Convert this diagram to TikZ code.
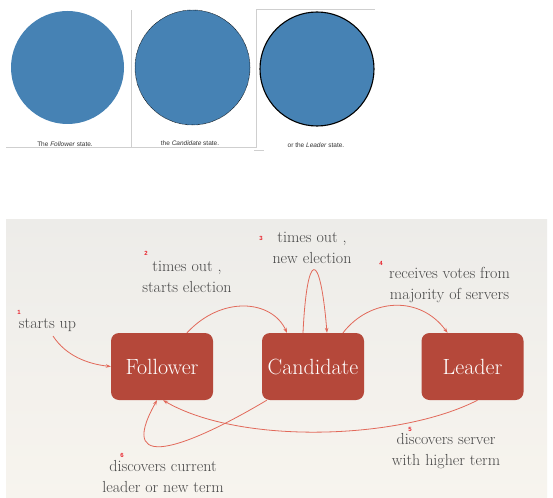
\documentclass[tikz,border=0pt]{standalone}
\usepackage{fontspec}
\newfontfamily\capfont{Liberation Sans}
\usetikzlibrary{arrows.meta}
\definecolor{stblue}{HTML}{4682B4}
\definecolor{boxred}{HTML}{B5483A}
\definecolor{arrred}{HTML}{E2695A}
\definecolor{numred}{HTML}{E8202A}
\definecolor{labgrey}{HTML}{474747}
\definecolor{panelline}{HTML}{CFCFCF}
\definecolor{bgtop}{HTML}{EDECE9}
\definecolor{bgmid}{HTML}{E6E4E0}
\definecolor{bgbot}{HTML}{F7F4EE}
\tikzset{
  statebox/.style={fill=boxred, rounded corners=8pt, minimum width=102pt, minimum height=67pt, inner sep=0pt,
    text=white, font=\fontsize{22}{24}\selectfont},
  lab/.style={text=labgrey, align=center, inner sep=0pt, font=\fontsize{16}{21}\selectfont},
  num/.style={text=numred, inner sep=0pt, font=\capfont\bfseries\fontsize{6}{6}\selectfont},
  captext/.style={text=black!80, inner sep=0pt, font=\capfont\fontsize{6.5}{7}\selectfont},
  conn/.style={draw=arrred, line width=0.8pt, -{Stealth[length=5pt,width=3.6pt]}},
  pline/.style={draw=panelline, line width=0.8pt}
}
\begin{document}
\begin{tikzpicture}[x=1pt,y=-1pt]
\useasboundingbox (0,0) rectangle (553,497);
\fill[white] (0,0) rectangle (553,497);
% top panels
\draw[pline] (6,147) -- (131,147) -- (131,10);
\draw[pline] (131,147) -- (256,147) -- (256,9.5) -- (375,9.5);
\draw[pline] (254,150) -- (264,150);
\fill[stblue] (67.5,67.5) circle (56.5);
\draw[fill=stblue, draw=black, line width=0.5pt, dash pattern=on 0.6pt off 0.6pt] (192.5,67.5) circle (57.5);
\draw[fill=stblue, draw=black, line width=1.1pt] (317,69) circle (57);
\node[captext] (c1) at (65,143.7) {The \textit{Follower} state.};
\node[captext] (c2) at (190,143.5) {the \textit{Candidate} state.};
\node[captext] (c3) at (316,145) {or the \textit{Leader} state.};
% bottom panel
\shade[top color=bgtop, middle color=bgmid, bottom color=bgbot] (6,219) rectangle (547,497);
% states
\node[statebox] (fol) at (162,366.5) {Follower};
\node[statebox] (can) at (313,366.5) {Candidate};
\node[statebox] (lea) at (472.5,366.5) {Leader};
% labels
\node[lab] (l1) at (47.5,325) {starts up};
\node[lab] (l2) at (187,277) {times out ,\\starts election};
\node[lab] (l3) at (312,247.5) {times out ,\\new election};
\node[lab] (l4) at (449.5,285) {receives votes from\\majority of servers};
\node[lab] (l5) at (446,451.5) {discovers server\\with higher term};
\node[lab] (l6) at (163,477) {discovers current\\leader or new term};
\node[num] (n1) at (19,312.5) {1};
\node[num] (n2) at (146,253) {2};
\node[num] (n3) at (261,238) {3};
\node[num] (n4) at (381,263) {4};
\node[num] (n5) at (410,429.5) {5};
\node[num] (n6) at (122,455) {6};
% connectors
\coordinate (s1) at (53,336);
\draw[conn] (s1) .. controls (66,356) and (88,364) .. (fol.west);
\draw[conn] ([xshift=25pt]fol.north) .. controls (222,295) and (272,300) .. ([xshift=-26pt]can.north);
\draw[conn] ([xshift=-10pt]can.north) .. controls (307,250) and (320,248) .. ([xshift=14pt]can.north);
\draw[conn] ([xshift=30pt]can.north) .. controls (370,298) and (420,295) .. ([xshift=-25pt]lea.north);
\draw[conn] ([xshift=5pt]lea.south) .. controls (400,440) and (240,445) .. ([xshift=1pt]fol.south);
\draw[conn] ([xshift=5pt]can.south west) .. controls (200,440) and (112,480) .. ([xshift=-5pt]fol.south);
\end{tikzpicture}
\end{document}
